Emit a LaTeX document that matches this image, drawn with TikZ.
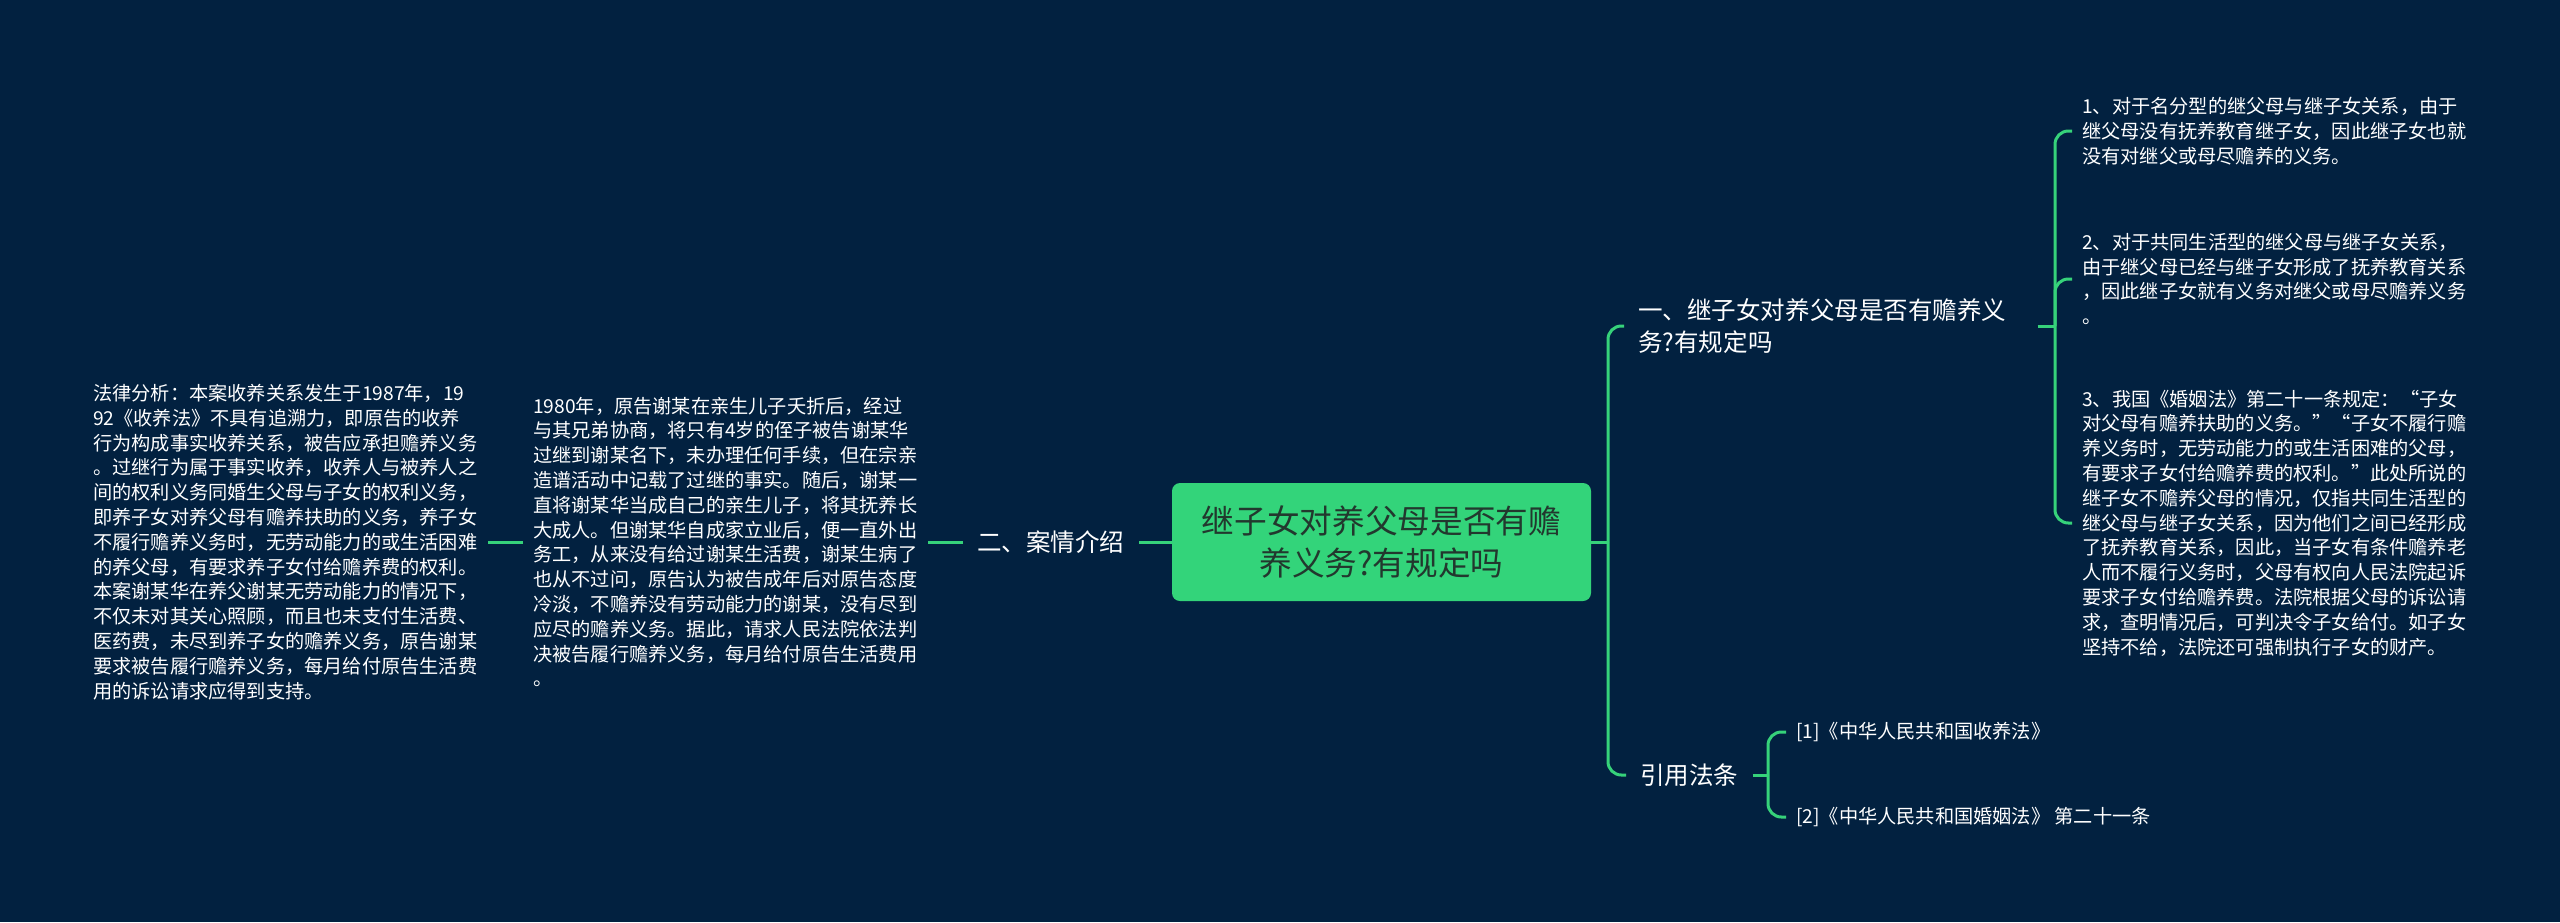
\documentclass[tikz,border=0pt]{standalone}
\usepackage{fontspec}
\setmainfont{Noto Sans CJK SC}
\definecolor{bg}{HTML}{022140}
\definecolor{lk}{HTML}{36D27A}
\definecolor{boxfill}{HTML}{33D47A}
\definecolor{boxtext}{HTML}{22382E}
\tikzset{
  link/.style={draw=lk, line width=2.25pt},
  rc/.style={rounded corners=10pt},
  leaf/.style={text=white, font=\fontsize{14.4pt}{18.6pt}\selectfont, align=left, inner xsep=7.5pt, inner ysep=0pt, anchor=west},
  branch/.style={text=white, font=\fontsize{18.4pt}{24pt}\selectfont, align=left, inner xsep=10.5pt, inner ysep=0pt, anchor=west},
  rootbox/.style={fill=boxfill, text=boxtext, rounded corners=6pt, font=\fontsize{24.5pt}{31.5pt}\selectfont, align=center, minimum width=314.25pt, minimum height=88.5pt, inner sep=0pt}
}
\begin{document}
\begin{tikzpicture}[x=0.75pt,y=-0.75pt]
\fill[bg] (0,0) rectangle (2560,922);
\useasboundingbox (0,0) rectangle (2560,922);

\node[rootbox] (center) at (1381.5,542) {继子女对养父母是否有赡\\养义务?有规定吗};

\node[branch] (b2) at (963,542) {二、案情介绍};
\node[branch, text width=288.75pt] (b1) at (1624,326) {一、继子女对养父母是否有赡养义\\务?有规定吗};
\node[branch] (b4) at (1626,775) {引用法条};

\node[leaf] (leafM) at (523,542) {1980年，原告谢某在亲生儿子夭折后，经过\\与其兄弟协商，将只有4岁的侄子被告谢某华\\过继到谢某名下，未办理任何手续，但在宗亲\\造谱活动中记载了过继的事实。随后，谢某一\\直将谢某华当成自己的亲生儿子，将其抚养长\\大成人。但谢某华自成家立业后，便一直外出\\务工，从来没有给过谢某生活费，谢某生病了\\也从不过问，原告认为被告成年后对原告态度\\冷淡，不赡养没有劳动能力的谢某，没有尽到\\应尽的赡养义务。据此，请求人民法院依法判\\决被告履行赡养义务，每月给付原告生活费用\\。};

\node[leaf] (leafL) at (83,542) {法律分析：本案收养关系发生于1987年，19\\92《收养法》不具有追溯力，即原告的收养\\行为构成事实收养关系，被告应承担赡养义务\\。过继行为属于事实收养，收养人与被养人之\\间的权利义务同婚生父母与子女的权利义务，\\即养子女对养父母有赡养扶助的义务，养子女\\不履行赡养义务时，无劳动能力的或生活困难\\的养父母，有要求养子女付给赡养费的权利。\\本案谢某华在养父谢某无劳动能力的情况下，\\不仅未对其关心照顾，而且也未支付生活费、\\医药费，未尽到养子女的赡养义务，原告谢某\\要求被告履行赡养义务，每月给付原告生活费\\用的诉讼请求应得到支持。};

\node[leaf] (leafR1) at (2072,131) {1、对于名分型的继父母与继子女关系，由于\\继父母没有抚养教育继子女，因此继子女也就\\没有对继父或母尽赡养的义务。};
\node[leaf] (leafR2) at (2072,279) {2、对于共同生活型的继父母与继子女关系，\\由于继父母已经与继子女形成了抚养教育关系\\，因此继子女就有义务对继父或母尽赡养义务\\。};
\node[leaf] (leafR3) at (2072,523) {3、我国《婚姻法》第二十一条规定：“子女\\对父母有赡养扶助的义务。”“子女不履行赡\\养义务时，无劳动能力的或生活困难的父母，\\有要求子女付给赡养费的权利。”此处所说的\\继子女不赡养父母的情况，仅指共同生活型的\\继父母与继子女关系，因为他们之间已经形成\\了抚养教育关系，因此，当子女有条件赡养老\\人而不履行义务时，父母有权向人民法院起诉\\要求子女付给赡养费。法院根据父母的诉讼请\\求，查明情况后，可判决令子女给付。如子女\\坚持不给，法院还可强制执行子女的财产。};

\node[leaf] (leafB1) at (1786,732) {[1]《中华人民共和国收养法》};
\node[leaf] (leafB2) at (1786,817) {[2]《中华人民共和国婚姻法》 第二十一条};

\coordinate (m1) at (1608,542);
\coordinate (r1) at (2055,326);
\coordinate (d1) at (1768,775);

\draw[link] (center.east) -- (m1);
\draw[link,rc] (m1) |- (b1.west);
\draw[link,rc] (m1) |- (b4.west);
\draw[link] (b1.east) -- (r1);
\draw[link,rc] (r1) |- (leafR1.west);
\draw[link,rc] (r1) |- (leafR2.west);
\draw[link,rc] (r1) |- (leafR3.west);
\draw[link] (b4.east) -- (d1);
\draw[link,rc] (d1) |- (leafB1.west);
\draw[link,rc] (d1) |- (leafB2.west);
\draw[link] (center.west) -- (b2.east);
\draw[link] (b2.west) -- (leafM.east);
\draw[link] (leafM.west) -- (leafL.east);
\end{tikzpicture}
\end{document}
